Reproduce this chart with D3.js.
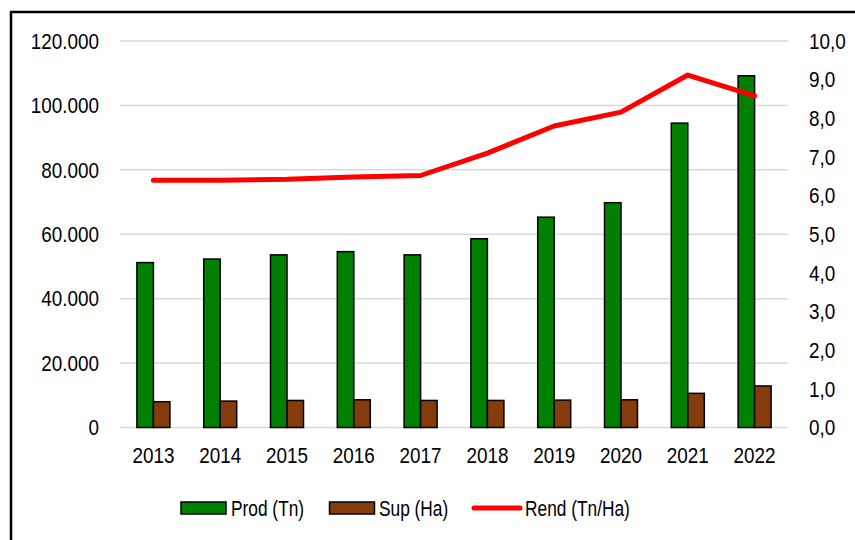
<!DOCTYPE html>
<html>
<head>
<meta charset="utf-8">
<script src="https://cdn.jsdelivr.net/npm/d3@7"></script>
<style>
  body { margin: 0; background: #fff; }
  text { font-family: "Liberation Sans", Arial, sans-serif; fill: #000; }
</style>
</head>
<body>
<div id="chart"></div>
<script>
var years = ["2013", "2014", "2015", "2016", "2017", "2018", "2019", "2020", "2021", "2022"];
var prod = [51200, 52300, 53600, 54600, 53600, 58600, 65300, 69800, 94500, 109200];
var sup = [8000, 8200, 8400, 8600, 8400, 8400, 8500, 8600, 10600, 12900];
var rend = [6.4, 6.4, 6.42, 6.48, 6.52, 7.1, 7.8, 8.16, 9.12, 8.58];
var leftTicks = [0, 20000, 40000, 60000, 80000, 100000, 120000];
var rightTicks = [0, 1, 2, 3, 4, 5, 6, 7, 8, 9, 10];

var W = 855, H = 540;
var svg = d3.select("#chart").append("svg")
  .attr("width", W)
  .attr("height", H);

// frame, runs off the right and bottom edges like the original
svg.append("rect")
  .attr("x", 11).attr("y", 12)
  .attr("width", 860).attr("height", 540)
  .attr("fill", "none")
  .attr("stroke", "#000")
  .attr("stroke-width", 2.5);

var pLeft = 120, pRight = 788, pTop = 41, pBottom = 427.5;
var fs = 22.5, squeeze = "scale(0.84,1)";

var x = d3.scaleBand().domain(years).range([pLeft, pRight]);
var yL = d3.scaleLinear().domain([0, 120000]).range([pBottom, pTop]);
var yR = d3.scaleLinear().domain([0, 10]).range([pBottom, pTop]);

var fmtL = function(d){ return d3.format(",")(d).replace(/,/g, "."); };
var fmtR = function(d){ return d3.format(".1f")(d).replace(".", ","); };

// gridlines
svg.append("g").selectAll("line").data(leftTicks).enter().append("line")
  .attr("x1", pLeft).attr("x2", pRight)
  .attr("y1", function(d){ return yL(d); })
  .attr("y2", function(d){ return yL(d); })
  .attr("stroke", "#d9d9d9")
  .attr("stroke-width", 1.5);

// left axis
var axL = svg.append("g")
  .attr("transform", "translate(" + (pLeft - 21) + ",0)")
  .call(d3.axisLeft(yL).tickValues(leftTicks).tickFormat(fmtL).tickSize(0).tickPadding(0));
axL.select(".domain").remove();
axL.selectAll("text").attr("font-size", fs).attr("font-family", null).attr("transform", squeeze);

// right axis
var axR = svg.append("g")
  .attr("transform", "translate(" + (pRight + 21) + ",0)")
  .call(d3.axisRight(yR).tickValues(rightTicks).tickFormat(fmtR).tickSize(0).tickPadding(0));
axR.select(".domain").remove();
axR.selectAll("text").attr("font-size", fs).attr("font-family", null).attr("transform", squeeze);

// bottom axis
var axB = svg.append("g")
  .attr("transform", "translate(0," + (pBottom + 20) + ")")
  .call(d3.axisBottom(x).tickSize(0).tickPadding(0));
axB.select(".domain").remove();
axB.selectAll("text").attr("font-size", fs).attr("font-family", null).attr("dy", "0.71em").attr("transform", squeeze);

var bw = 16.5;

svg.append("g").selectAll("rect").data(prod).enter().append("rect")
  .attr("x", function(d, i){ return x(years[i]) + x.bandwidth() / 2 - bw; })
  .attr("y", function(d){ return yL(d); })
  .attr("width", bw)
  .attr("height", function(d){ return pBottom - yL(d); })
  .attr("fill", "#008000")
  .attr("stroke", "#000")
  .attr("stroke-width", 1.5);

svg.append("g").selectAll("rect").data(sup).enter().append("rect")
  .attr("x", function(d, i){ return x(years[i]) + x.bandwidth() / 2; })
  .attr("y", function(d){ return yL(d); })
  .attr("width", bw)
  .attr("height", function(d){ return pBottom - yL(d); })
  .attr("fill", "#843c0c")
  .attr("stroke", "#000")
  .attr("stroke-width", 1.5);

var line = d3.line()
  .x(function(d, i){ return x(years[i]) + x.bandwidth() / 2; })
  .y(function(d){ return yR(d); });

svg.append("path")
  .datum(rend)
  .attr("d", line)
  .attr("fill", "none")
  .attr("stroke", "#ff0000")
  .attr("stroke-width", 5)
  .attr("stroke-linecap", "round")
  .attr("stroke-linejoin", "round");

// legend
var lg = svg.append("g").attr("transform", "translate(0,508)");
var label = function(x0, txt){
  lg.append("g").attr("transform", "translate(" + x0 + ",0)")
    .append("text").attr("dy", "0.35em").attr("font-size", 22.5).attr("transform", "scale(0.77,1)").text(txt);
};
lg.append("rect").attr("x", 181).attr("y", -6).attr("width", 45).attr("height", 12)
  .attr("fill", "#008000").attr("stroke", "#000").attr("stroke-width", 1.5);
label(231, "Prod (Tn)");
lg.append("rect").attr("x", 329.5).attr("y", -6).attr("width", 45).attr("height", 12)
  .attr("fill", "#843c0c").attr("stroke", "#000").attr("stroke-width", 1.5);
label(379, "Sup (Ha)");
lg.append("line").attr("x1", 474).attr("x2", 520).attr("y1", 0).attr("y2", 0)
  .attr("stroke", "#ff0000").attr("stroke-width", 5).attr("stroke-linecap", "round");
label(525, "Rend (Tn/Ha)");
</script>
</body>
</html>
